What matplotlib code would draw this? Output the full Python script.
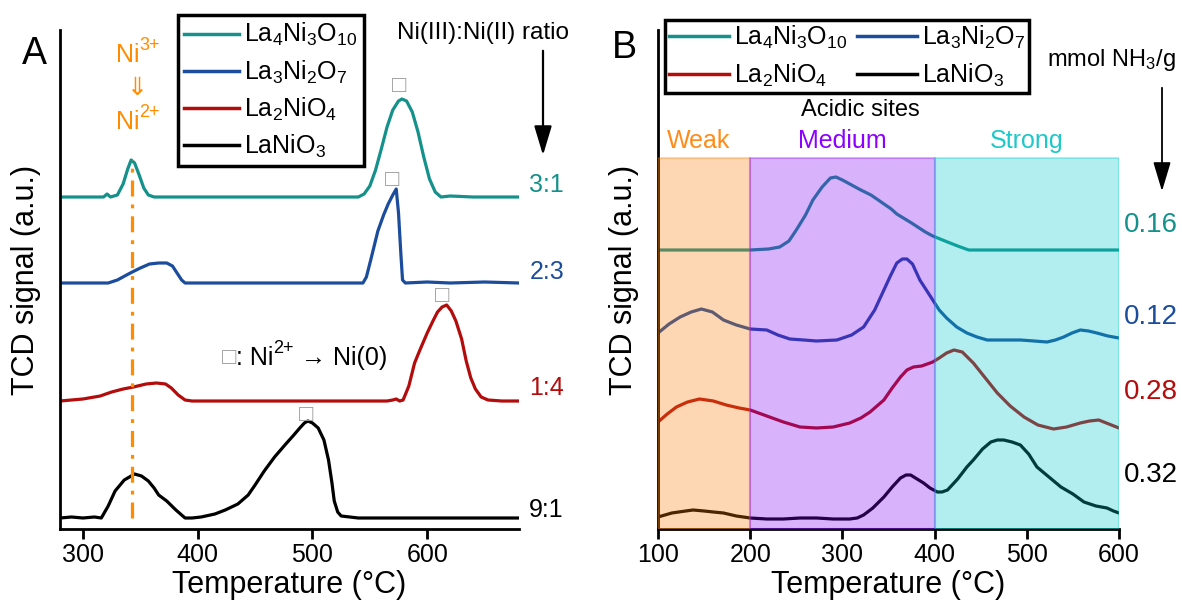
import matplotlib
matplotlib.use("Agg")
import matplotlib.pyplot as plt
from matplotlib.lines import Line2D
from matplotlib.patches import FancyArrowPatch

plt.rcParams['font.family'] = ['Liberation Sans', 'DejaVu Sans']
plt.rcParams['mathtext.fontset'] = 'custom'
plt.rcParams['mathtext.rm'] = 'Liberation Sans'
plt.rcParams['mathtext.default'] = 'regular'

NAMES = ['La$_4$Ni$_3$O$_{10}$', 'La$_3$Ni$_2$O$_7$', 'La$_2$NiO$_4$', 'LaNiO$_3$']
COLORS = ['#14918b', '#1c4c9c', '#b30c0c', 'black']

# ---- panel A : H2-TPR, signal (height above each baseline)
A_OFFSET = [332, 246, 128, 11]
A_RATIO = ['3:1', '2:3', '1:4', '9:1']
A_RATIO_Y = [344, 257, 141, 19]

tA_teal = [280, 300, 318, 321, 324, 330, 335, 339, 342, 345, 349, 353, 357, 362, 380, 450,
           520, 540, 545, 550, 555, 560, 565, 570, 575, 578, 582, 587, 592, 597, 602, 607,
           612, 620, 640, 660, 680]
sA_teal = [0, 0, 0, 3, 0, 2, 13, 28, 37, 34, 22, 9, 2, 0, 0, 0,
           0, 0, 3, 11, 27, 48, 70, 87, 96, 98, 96, 85, 65, 40, 18, 5,
           0, 1, 0, 0, 0]

tA_blue = [280, 300, 322, 330, 338, 343, 350, 358, 366, 373, 378, 382, 386, 389, 400, 450,
           500, 535, 544, 547, 551, 557, 562, 566, 570, 573, 575, 577, 578.5, 581, 600, 620,
           650, 680]
sA_blue = [0, 0, 0, 3, 8, 11, 15, 19, 20, 20, 17, 10, 3, 0, 0, 0,
           0, 0, 0, 6, 24, 52, 68, 79, 88, 94, 70, 30, 3, 0, 1, 0,
           1, 0]

tA_red = [280, 300, 315, 325, 335, 344, 355, 364, 372, 377, 383, 389, 395, 450, 500, 550,
          565, 570, 573, 576, 579, 584, 589, 594, 600, 605, 609, 613, 617, 621, 625, 630,
          634, 638, 642, 647, 653, 665, 680]
sA_red = [0, 2, 5, 9, 12, 14, 17, 18, 17, 13, 6, 1, 0, 0, 0, 0,
          0, 1, 2, 0, 1, 15, 38, 52, 68, 80, 89, 94, 96, 90, 80, 62,
          40, 23, 12, 4, 1, 0, 0]

tA_black = [280, 290, 300, 310, 316, 322, 328, 336, 345, 351, 357, 362, 366, 373, 381, 389,
            395, 403, 415, 424, 435, 444, 450, 458, 467, 476, 483, 489, 493, 496, 500, 505,
            510, 514, 517, 519, 522, 525, 540, 580, 620, 680]
sA_black = [0, 1, 0, 1, 0, 12, 27, 38, 44, 42, 37, 30, 23, 17, 8, 0,
            0, 1, 4, 8, 14, 23, 33, 47, 61, 73, 82, 90, 95, 97, 95, 90,
            78, 58, 35, 17, 6, 2, 0, 0, 0, 0]

# peaks marked with a box (T, height)
BOX_T = [575, 569, 613, 494]
BOX_Y = [443, 349, 233, 114]

# ---- panel B : NH3-TPD
B_OFFSET = [279, 189, 99, 10]
B_VALUE = ['0.16', '0.12', '0.28', '0.32']
B_VALUE_Y = [304, 212, 137, 54]

tB_teal = [100, 150, 200, 220, 232, 242, 250, 260, 268, 278, 287, 293, 300, 310, 320, 331,
           342, 353, 359, 375, 390, 398, 406, 414, 425, 437, 450, 500, 550, 600]
sB_teal = [0, 0, 0, 1, 3, 9, 20, 35, 50, 63, 72, 73, 70, 65, 60, 55,
           48, 41, 36, 27, 18, 14, 11, 8, 4, 0, 0, 0, 0, 0]

tB_blue = [100, 112, 124, 136, 147, 159, 171, 185, 200, 218, 230, 243, 258, 272, 294, 310,
           323, 335, 345, 352, 359, 365, 370, 376, 384, 391, 398, 405, 413, 424, 435, 446,
           457, 475, 493, 508, 522, 531, 540, 549, 558, 567, 576, 588, 600]
sB_blue = [7, 16, 23, 28, 31, 28, 20, 15, 11, 10, 5, 1, 0, -1, 0, 5,
           13, 30, 50, 64, 77, 81, 81, 76, 60, 50, 40, 30, 22, 13, 7, 3,
           0, 0, 0, -1, -2, 0, 3, 7, 10, 9, 7, 4, 2]

tB_red = [100, 110, 120, 132, 145, 160, 174, 188, 200, 218, 236, 254, 272, 290, 308, 320,
          330, 340, 345, 354, 363, 370, 377, 386, 398, 405, 413, 421, 430, 442, 455, 468,
          482, 497, 512, 529, 543, 558, 568, 578, 589, 600]
sB_red = [8, 16, 23, 28, 31, 29, 25, 22, 20, 14, 8, 3, 2, 3, 7, 12,
          18, 26, 30, 42, 53, 60, 63, 64, 68, 72, 77, 80, 78, 67, 52, 37,
          24, 13, 5, 1, 3, 7, 9, 10, 6, 2]

tB_black = [100, 115, 130, 138, 150, 160, 171, 185, 200, 218, 236, 254, 272, 290, 308, 316,
            323, 333, 345, 354, 363, 369, 374, 381, 388, 395, 403, 408, 414, 425, 435, 442,
            452, 461, 468, 475, 484, 493, 502, 511, 524, 537, 550, 562, 575, 587, 594, 600]
sB_black = [2, 6, 8, 9, 8, 7, 6, 3, 1, 0, 0, 1, 1, 0, 0, 1,
            4, 11, 22, 32, 41, 44, 44, 40, 36, 31, 27, 27, 29, 40, 52, 59,
            70, 77, 79, 79, 77, 74, 65, 52, 42, 32, 25, 17, 13, 11, 8, 6]

SPAN_EDGES = [100, 200, 400, 600]
SPAN_NAMES = ['Weak', 'Medium', 'Strong']
SPAN_FILL = ['#fa7d08', '#8000f5', '#00c8cc']
SPAN_TEXT = ['#ff8c1a', '#8b00ff', '#1ec8c8']
SPAN_TOP = 371

YMAX = 499
W, H = 1182, 606
ORANGE = '#ff8c00'
BOXC = '#9c9c9c'


def fx(px):
    return px / W


def fy(py):
    return 1 - py / H


def sup_after(ax, anchor, sup, color, size):
    # small raised text glued to the right of another text
    return ax.annotate(sup, xy=(1, 0.55), xycoords=anchor, color=color,
                       fontsize=size, ha='left', va='bottom')


fig = plt.figure(figsize=(W / 100, H / 100), dpi=100)
axA = fig.add_axes([fx(60), fy(529), fx(519) - fx(60), fy(30) - fy(529)])
axB = fig.add_axes([fx(658), fy(529), fx(1119) - fx(658), fy(30) - fy(529)])

curvesA = [(tA_teal, sA_teal), (tA_blue, sA_blue), (tA_red, sA_red), (tA_black, sA_black)]
curvesB = [(tB_teal, sB_teal), (tB_blue, sB_blue), (tB_red, sB_red), (tB_black, sB_black)]

for ax in (axA, axB):
    ax.set_ylim(0, YMAX)
    ax.set_yticks([])
    for s in ('top', 'right'):
        ax.spines[s].set_visible(False)
    for s in ('left', 'bottom'):
        ax.spines[s].set_linewidth(2)
    ax.tick_params(axis='x', length=7, width=2, labelsize=18, pad=3)
    ax.set_xlabel('Temperature (°C)', fontsize=22, labelpad=2)
    ax.set_ylabel('TCD signal (a.u.)', fontsize=22, labelpad=14)

# ---------------- panel A
for (t, s), off, c in zip(curvesA, A_OFFSET, COLORS):
    axA.plot(t, [off + v for v in s], color=c, lw=2.3, zorder=2)
axA.set_xlim(280, 680)
axA.set_xticks([300, 400, 500, 600])

for lab, y, c in zip(A_RATIO, A_RATIO_Y, COLORS):
    axA.text(689, y, lab, color=c, fontsize=18, ha='left', va='center', clip_on=False)

# Ni3+ -> Ni2+ marker line
axA.plot([343, 343], [A_OFFSET[3], A_OFFSET[0] + 37], color=ORANGE, lw=2.3,
         ls=(0, (5, 2.5, 1.2, 2.5)), zorder=3)

for t, y in zip(BOX_T, BOX_Y):
    axA.text(t, y, '□', color=BOXC, fontsize=17, ha='center', va='center')
box = axA.text(421, 171, '□', color=BOXC, fontsize=17, ha='left', va='center')
t1 = axA.annotate(': Ni', xy=(1, 0.5), xycoords=box, fontsize=18, ha='left', va='center')
t2 = sup_after(axA, t1, '2+', 'black', 13)
axA.annotate(' → Ni(0)', xy=(1, 0.5), xycoords=(t2, t1), fontsize=18,
             ha='left', va='center')

n3 = fig.text(fx(116), fy(55), 'Ni', color=ORANGE, fontsize=18, ha='left', va='center')
sup_after(axA, n3, '3+', ORANGE, 13)
fig.text(fx(137), fy(88), '⇓', color=ORANGE, fontsize=18, ha='center', va='center')
n2 = fig.text(fx(116), fy(122), 'Ni', color=ORANGE, fontsize=18, ha='left', va='center')
sup_after(axA, n2, '2+', ORANGE, 13)

fig.text(fx(483), fy(33), 'Ni(III):Ni(II) ratio', fontsize=17.5, ha='center', va='center')
fig.add_artist(FancyArrowPatch(
    (fx(543), fy(48)), (fx(543), fy(158)), transform=fig.transFigure,
    arrowstyle='-|>,head_length=0.6,head_width=0.18', mutation_scale=30,
    color='black', lw=1.6))

handles = [Line2D([], [], color=c, lw=2.5) for c in COLORS]
legA = axA.legend(handles, NAMES, loc='upper left', bbox_to_anchor=(fx(178), fy(15)),
                  bbox_transform=fig.transFigure, fontsize=18, frameon=True, fancybox=False,
                  edgecolor='black', framealpha=1, handlelength=2.2, handletextpad=0.2,
                  labelspacing=0.4, borderpad=0.25, borderaxespad=0)
legA.get_frame().set_linewidth(2.5)

fig.text(fx(34), fy(54), 'A', fontsize=27, ha='center', va='center')

# ---------------- panel B
for (t, s), off, c in zip(curvesB, B_OFFSET, COLORS):
    axB.plot(t, [off + v for v in s], color=c, lw=2.3, zorder=2)
axB.set_xlim(100, 600)
axB.set_xticks([100, 200, 300, 400, 500, 600])

for i, name in enumerate(SPAN_NAMES):
    a, b = SPAN_EDGES[i], SPAN_EDGES[i + 1]
    axB.axvspan(a, b, ymin=0, ymax=SPAN_TOP / YMAX, facecolor=SPAN_FILL[i],
                edgecolor=SPAN_FILL[i], alpha=0.3, lw=1.5, zorder=3)
    axB.text((a + b) / 2 if i else 144, SPAN_TOP + 17, name, color=SPAN_TEXT[i],
             fontsize=18, ha='center', va='center')
axB.text(320, 419, 'Acidic sites', fontsize=17, ha='center', va='center')

for lab, y, c in zip(B_VALUE, B_VALUE_Y, COLORS):
    axB.text(605, y, lab, color=c, fontsize=20, ha='left', va='center', clip_on=False)

fig.text(fx(1111), fy(60), 'mmol NH$_3$/g', fontsize=17, ha='center', va='center')
fig.add_artist(FancyArrowPatch(
    (fx(1162), fy(85)), (fx(1162), fy(194)), transform=fig.transFigure,
    arrowstyle='-|>,head_length=0.6,head_width=0.18', mutation_scale=30,
    color='black', lw=1.3))

order = [0, 2, 1, 3]
legB = axB.legend([handles[i] for i in order], [NAMES[i] for i in order], ncol=2,
                  loc='upper left', bbox_to_anchor=(fx(665), fy(20)),
                  bbox_transform=fig.transFigure, fontsize=18, frameon=True, fancybox=False,
                  edgecolor='black', framealpha=1, handlelength=2.4, handletextpad=0.2,
                  labelspacing=0.45, borderpad=0.15, borderaxespad=0, columnspacing=0.4)
legB.get_frame().set_linewidth(2.5)

fig.text(fx(624), fy(48), 'B', fontsize=27, ha='center', va='center')

fig.savefig('out.png', dpi=100)
